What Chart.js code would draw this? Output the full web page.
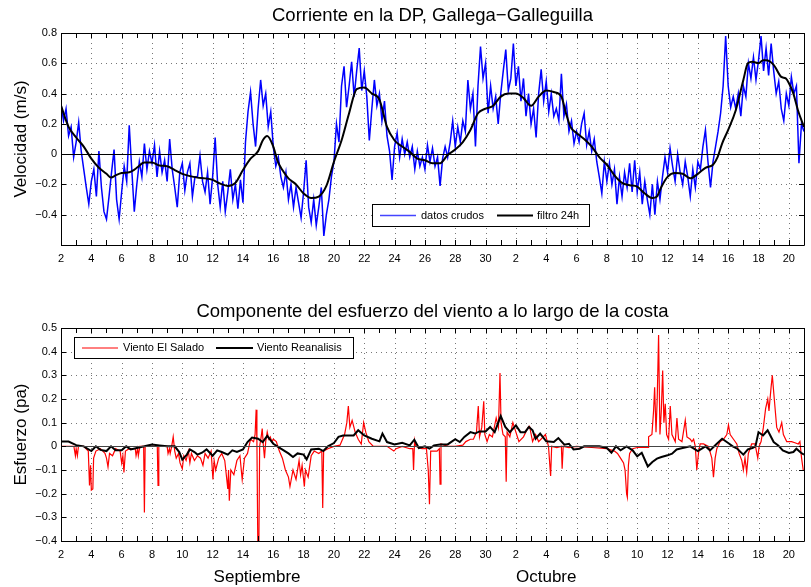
<!DOCTYPE html>
<html>
<head>
<meta charset="utf-8">
<script src="https://cdn.jsdelivr.net/npm/chart.js@4.4.0/dist/chart.umd.min.js"></script>
<style>
    body { margin: 0; background: #fff; }
    #wrap { position: relative; width: 811px; height: 587px; }
    canvas { position: absolute; left: 0; }
</style>
</head>
<body>
<div id="wrap">
    <canvas id="current-chart" width="811" height="290" style="top:0"></canvas>
    <canvas id="wind-chart" width="811" height="297" style="top:290px"></canvas>
</div>
<script>
// time axis: day counted from 1 Sept (Oct 1 = day 31)
const dayMin = 2;
const dayMax = 51;

// raw current, every 4 h from day 2
const rawStart = 2;
const rawStep = 1 / 6;
const rawCurrent = [
    0.33, 0.22, 0.30, 0.12, 0.18, -0.02,
    0.08, 0.21, 0.02, -0.10, -0.22, -0.33,
    -0.18, -0.10, -0.28, 0.02, -0.22, -0.38,
    -0.43, -0.28, -0.12, 0.03, -0.30, -0.43,
    -0.25, -0.08, -0.18, 0.19, -0.10, -0.38,
    -0.20, -0.05, -0.15, 0.07, -0.10, 0.02,
    -0.06, 0.06, -0.15, 0.02, -0.12, -0.04,
    -0.18, 0.10, -0.10, -0.22, -0.35, -0.12,
    -0.06, -0.24, -0.12, -0.06, -0.28, -0.15,
    -0.15, -0.01, -0.18, -0.25, -0.12, -0.33,
    -0.15, 0.11, -0.20, -0.35, -0.18, -0.38,
    -0.25, -0.10, -0.30, -0.20, -0.36, -0.17,
    -0.32, 0.08, 0.28, 0.41, 0.20, 0.05,
    0.30, 0.49, 0.32, 0.40, 0.18, 0.28,
    0.05, -0.08, -0.02, -0.15, -0.22, -0.12,
    -0.30, -0.20, -0.35, -0.22, -0.32, -0.42,
    -0.25, -0.04, -0.35, -0.45, -0.30, -0.47,
    -0.35, -0.22, -0.54, -0.40, -0.30, -0.15,
    -0.05, 0.20, 0.08, 0.45, 0.58, 0.31,
    0.45, 0.61, 0.38, 0.55, 0.70, 0.42,
    0.55, 0.38, 0.09, 0.30, 0.49, 0.32,
    0.40, 0.22, 0.35, 0.12, 0.02, -0.17,
    0.05, 0.14, -0.02, 0.10, 0.00, 0.08,
    -0.02, 0.05, -0.10, 0.02, -0.08, -0.02,
    -0.10, 0.06, -0.05, 0.04, -0.08, -0.02,
    -0.21, -0.03, 0.05, -0.02, 0.08, 0.22,
    0.05, 0.18, 0.08, 0.22, 0.15, 0.49,
    0.30, 0.40, 0.05, 0.45, 0.71, 0.50,
    0.60, 0.27, 0.45, 0.30, 0.38, 0.20,
    0.40, 0.55, 0.69, 0.42, 0.50, 0.73,
    0.45, 0.58, 0.35, 0.50, 0.25, 0.40,
    0.20, 0.30, 0.11, 0.40, 0.56, 0.35,
    0.48, 0.28, 0.40, 0.25, 0.30, 0.22,
    0.53, 0.25, 0.33, 0.15, 0.22, 0.07,
    0.15, 0.08, 0.20, 0.27, 0.06, 0.15,
    0.02, 0.10, -0.05, -0.15, -0.26, -0.05,
    -0.18, -0.06, -0.20, -0.10, -0.33, -0.15,
    -0.28, -0.12, -0.22, -0.06, -0.25, -0.04,
    -0.25, -0.12, -0.33, -0.18, -0.30, -0.40,
    -0.20, -0.40, -0.18, -0.30, -0.15, -0.02,
    -0.12, 0.04, -0.08, -0.18, 0.00, -0.12,
    -0.20, -0.05, -0.15, -0.28, -0.10, -0.22,
    -0.05, -0.10, 0.05, 0.16, -0.05, -0.22,
    -0.05, 0.05, 0.15, 0.27, 0.45, 0.78,
    0.45, 0.31, 0.38, 0.30, 0.40, 0.25,
    0.45, 0.38, 0.60, 0.50, 0.64, 0.49,
    0.62, 0.78, 0.55, 0.70, 0.52, 0.73,
    0.55, 0.40, 0.48, 0.30, 0.22, 0.40,
    0.32, 0.51, 0.40, 0.45, -0.06, 0.20,
    0.15
];

// 24h filtered current [day, m/s]
const filtered = [
    [2, 0.32], [2.5, 0.18], [3, 0.11], [3.5, 0.05], [4, -0.03], [4.5, -0.09], [5, -0.13], [5.3, -0.155],
    [5.6, -0.14], [6, -0.125], [6.5, -0.12], [6.8, -0.105], [7, -0.09], [7.5, -0.055], [8, -0.055],
    [8.5, -0.075], [9, -0.08], [9.5, -0.105], [10, -0.13], [10.5, -0.145], [11, -0.155], [11.5, -0.16],
    [12, -0.17], [12.5, -0.195], [13, -0.21], [13.5, -0.19], [14, -0.105], [14.5, -0.03], [15, 0.02],
    [15.3, 0.09], [15.6, 0.12], [16, 0.05], [16.3, -0.05], [16.6, -0.105], [17, -0.16], [17.5, -0.2],
    [18, -0.26], [18.5, -0.29], [19, -0.28], [19.5, -0.21], [20, -0.05], [20.5, 0.09], [21, 0.27],
    [21.5, 0.43], [22, 0.44], [22.5, 0.40], [23, 0.36], [23.5, 0.18], [24, 0.09], [24.5, 0.05],
    [25, 0.015], [25.5, -0.03], [26, -0.04], [26.5, -0.06], [27, -0.06], [27.5, -0.005], [28, 0.03],
    [28.5, 0.08], [29, 0.16], [29.5, 0.27], [30, 0.30], [30.5, 0.32], [31, 0.38], [31.5, 0.40],
    [32, 0.40], [32.5, 0.37], [33, 0.32], [33.5, 0.38], [34, 0.42], [34.5, 0.41], [35, 0.38],
    [35.3, 0.27], [35.6, 0.18], [36, 0.14], [36.5, 0.10], [37, 0.05], [37.5, -0.02], [38, -0.07],
    [38.5, -0.14], [39, -0.19], [39.5, -0.205], [40, -0.215], [40.5, -0.26], [41, -0.29], [41.3, -0.28],
    [41.6, -0.215], [42, -0.15], [42.5, -0.125], [43, -0.13], [43.5, -0.16], [44, -0.13], [44.5, -0.09],
    [45, -0.07], [45.3, -0.02], [45.6, 0.07], [46, 0.16], [46.5, 0.29], [47, 0.49], [47.3, 0.60],
    [47.6, 0.61], [48, 0.60], [48.3, 0.62], [48.5, 0.62], [49, 0.59], [49.5, 0.51], [49.8, 0.50],
    [50, 0.47], [50.3, 0.40], [50.6, 0.29], [51, 0.18]
];

// wind stress, El Salado station [day, Pa]
const salado = [
    [2.0, 0], [2.5, 0], [2.85, 0], [2.95, -0.04], [3.0, -0.01], [3.08, -0.04], [3.15, 0], [3.5, 0],
    [3.8, -0.02], [3.88, -0.165], [3.95, -0.08], [4.0, -0.185], [4.1, -0.18], [4.15, -0.05], [4.3, -0.02],
    [4.6, -0.01], [4.9, -0.03], [5.0, -0.05], [5.1, -0.087], [5.2, -0.03], [5.4, -0.04], [5.6, -0.01],
    [5.9, -0.02], [6.0, -0.07], [6.08, -0.04], [6.15, -0.11], [6.25, -0.02], [6.5, -0.01], [6.9, -0.01],
    [6.95, -0.04], [7.05, -0.01], [7.1, -0.04], [7.2, 0], [7.45, 0], [7.5, -0.28], [7.55, 0], [8.0, 0],
    [8.35, 0], [8.4, -0.165], [8.45, 0], [9.0, 0], [9.06, -0.03], [9.15, -0.01], [9.2, -0.03], [9.3, 0],
    [9.4, 0.04], [9.5, -0.02], [9.6, -0.05], [9.75, -0.03], [9.85, -0.07], [10.0, -0.095], [10.1, -0.04],
    [10.25, -0.06], [10.4, -0.02], [10.5, -0.07], [10.6, -0.03], [10.8, -0.06], [11.0, -0.04],
    [11.2, -0.05], [11.36, -0.08], [11.5, -0.03], [11.7, -0.05], [11.9, -0.02], [12.02, -0.14],
    [12.1, -0.06], [12.2, -0.1], [12.4, -0.05], [12.6, -0.03], [12.8, -0.06], [13.0, -0.18],
    [13.05, -0.1], [13.1, -0.23], [13.2, -0.1], [13.4, -0.12], [13.6, -0.06], [13.8, -0.04],
    [13.95, -0.14], [14.1, -0.05], [14.3, -0.03], [14.5, 0.03], [14.7, 0.02], [14.8, 0.05],
    [14.87, 0.155], [14.92, 0.02], [14.98, -0.42], [15.05, -0.42], [15.1, 0], [15.2, 0.04],
    [15.27, 0.075], [15.35, 0], [15.42, -0.05], [15.5, 0.02], [15.6, 0.06], [15.7, 0.03], [15.8, 0.04],
    [15.9, 0.02], [16.0, 0.03], [16.2, 0.02], [16.4, -0.02], [16.6, -0.05], [16.8, -0.1], [17.0, -0.13],
    [17.1, -0.17], [17.3, -0.1], [17.5, -0.14], [17.7, -0.06], [17.8, -0.12], [17.9, -0.08],
    [18.05, -0.17], [18.12, -0.1], [18.3, -0.13], [18.5, -0.04], [18.7, -0.02], [19.0, -0.03],
    [19.2, -0.02], [19.26, -0.26], [19.32, -0.02], [19.6, -0.01], [20.0, 0], [20.4, 0.005],
    [20.7, 0.05], [20.85, 0.1], [20.95, 0.17], [21.05, 0.08], [21.2, 0.11], [21.4, 0.06], [21.6, 0.03],
    [21.8, 0.01], [21.96, 0.1], [22.1, 0.06], [22.3, 0.02], [22.6, 0], [23.0, 0], [23.5, 0],
    [23.95, -0.02], [24.1, -0.01], [24.5, 0], [25.0, -0.01], [25.2, -0.01], [25.25, -0.1],
    [25.32, 0.025], [25.4, 0], [25.8, -0.01], [26.1, -0.01], [26.22, -0.1], [26.3, -0.245],
    [26.38, -0.02], [26.8, -0.02], [26.95, -0.01], [27.0, -0.16], [27.06, 0.01], [27.5, 0], [28.0, 0],
    [28.5, 0.005], [28.7, 0.02], [29.0, 0.03], [29.2, 0.03], [29.4, 0.06], [29.52, 0.17], [29.6, 0.04],
    [29.75, 0.08], [29.88, 0.19], [29.95, 0.05], [30.1, 0.02], [30.25, 0.05], [30.45, 0.04],
    [30.7, 0.12], [30.85, 0.08], [30.95, 0.31], [31.02, 0.1], [31.15, 0.05], [31.3, 0.04],
    [31.36, -0.15], [31.42, 0.06], [31.6, 0.04], [31.8, 0.1], [32.0, 0.06], [32.2, 0.02], [32.5, 0.04],
    [32.8, 0.08], [32.9, 0.085], [33.1, 0.02], [33.3, 0.05], [33.5, 0.02], [33.95, 0.05], [34.15, 0],
    [34.29, -0.125], [34.36, 0], [34.7, -0.005], [35.0, 0], [35.05, -0.095], [35.12, 0], [35.5, -0.005],
    [36.0, 0], [37.0, -0.005], [38.0, -0.01], [38.5, -0.02], [38.7, -0.03], [38.9, -0.05], [39.1, -0.07],
    [39.2, -0.1], [39.3, -0.2], [39.35, -0.215], [39.42, -0.08], [39.5, -0.03], [39.7, -0.01],
    [40.0, -0.005], [40.5, -0.005], [40.72, -0.005], [40.75, 0.04], [40.97, 0.05], [41.08, 0.15],
    [41.15, 0.25], [41.24, 0.06], [41.32, 0.2], [41.41, 0.47], [41.5, 0.05], [41.59, 0.15],
    [41.68, 0.32], [41.76, 0.1], [41.85, 0.18], [41.94, 0.05], [42.07, 0.03], [42.18, 0.17],
    [42.29, 0.05], [42.51, 0.02], [42.62, 0.12], [42.73, 0.03], [42.95, 0.02], [43.17, 0.11],
    [43.28, 0.04], [43.5, 0.03], [43.61, 0.02], [43.72, 0.03], [43.83, 0], [43.93, -0.1], [44.04, -0.03],
    [44.15, 0.01], [44.37, 0.01], [44.7, 0], [44.92, -0.05], [45.03, -0.13], [45.14, -0.05],
    [45.25, -0.01], [45.47, 0.02], [45.69, 0.03], [45.91, 0.05], [46.02, 0.09], [46.13, 0.05],
    [46.35, 0.03], [46.57, 0.01], [46.72, -0.03], [46.9, -0.06], [47.0, -0.1], [47.11, -0.05],
    [47.22, -0.11], [47.33, -0.03], [47.55, 0.01], [47.77, 0.01], [47.95, -0.05], [48.04, 0],
    [48.17, 0.02], [48.32, 0.08], [48.47, 0.16], [48.61, 0.2], [48.69, 0.15], [48.83, 0.25],
    [48.91, 0.3], [49.04, 0.2], [49.2, 0.08], [49.35, 0.06], [49.53, 0.1], [49.64, 0.05], [49.86, 0.02],
    [50.18, 0.02], [50.4, 0.015], [50.62, 0.01], [50.73, 0.02], [50.84, -0.05], [50.95, -0.1]
];

// wind stress, reanalysis [day, Pa]
const reanalysis = [
    [2, 0.02], [2.5, 0.02], [3, 0.005], [3.5, 0], [4, -0.02], [4.3, 0], [4.6, -0.015], [5, -0.02],
    [5.3, 0], [5.6, -0.017], [6, -0.017], [6.3, 0], [6.6, -0.013], [7, -0.007], [7.5, 0], [8, 0.008],
    [8.5, 0.004], [9, 0], [9.5, 0], [9.8, -0.024], [10, -0.056], [10.3, -0.035], [10.5, -0.013],
    [10.8, -0.024], [11, -0.035], [11.3, -0.027], [11.6, -0.013], [12, -0.04], [12.3, -0.017],
    [12.6, -0.024], [13, -0.035], [13.3, -0.017], [13.6, -0.024], [14, -0.013], [14.3, 0.018],
    [14.6, 0.037], [15, 0.032], [15.3, 0.018], [15.6, 0.044], [16, 0.011], [16.5, -0.01], [17, -0.03],
    [17.3, -0.045], [17.6, -0.03], [18, -0.035], [18.2, -0.055], [18.5, -0.013], [19, -0.01],
    [19.3, -0.02], [19.6, 0], [20, 0.014], [20.3, 0.04], [20.6, 0.046], [21, 0.046], [21.3, 0.046],
    [21.6, 0.068], [22, 0.046], [22.5, 0.032], [23, 0.021], [23.2, 0.054], [23.5, 0.018], [24, 0.008],
    [24.5, 0.015], [25, 0.004], [25.3, 0.028], [25.6, -0.007], [26, 0], [26.3, -0.01], [26.6, 0.004],
    [27, 0.008], [27.5, 0.008], [28, 0.03], [28.3, 0.018], [28.6, 0.04], [29, 0.06], [29.3, 0.054],
    [29.6, 0.063], [30, 0.063], [30.3, 0.082], [30.6, 0.06], [31, 0.128], [31.3, 0.082], [31.6, 0.06],
    [32, 0.089], [32.3, 0.06], [32.6, 0.06], [32.86, 0.082], [33.1, 0.068], [33.3, 0.032], [33.6, 0.054],
    [34, 0.021], [34.5, 0.018], [34.8, 0.035], [35.2, 0.007], [35.5, 0.011], [35.8, -0.013],
    [36.2, -0.01], [36.5, 0], [37, 0], [37.5, 0], [38, -0.007], [38.3, -0.027], [38.6, 0], [38.9, -0.017],
    [39.3, 0], [39.7, -0.017], [40, -0.042], [40.3, -0.027], [40.7, -0.085], [41, -0.066], [41.3, -0.052],
    [41.6, -0.045], [42, -0.038], [42.3, -0.031], [42.6, -0.013], [43, -0.007], [43.5, 0], [44, -0.02],
    [44.5, 0], [44.8, -0.017], [45.2, 0.008], [45.6, 0.032], [46, 0.014], [46.3, 0], [46.6, -0.01],
    [47, -0.035], [47.3, -0.013], [47.6, -0.007], [47.8, 0], [48, 0.06], [48.3, 0.046], [48.6, 0.068],
    [49, 0.018], [49.3, 0.004], [49.6, -0.017], [50, -0.028], [50.3, -0.024], [50.5, -0.01],
    [50.8, -0.027], [51, -0.035]
];

const FONT = '"Liberation Sans", Arial, Helvetica, sans-serif';
Chart.defaults.font.family = FONT;
Chart.defaults.color = '#000';

function dayLabel(v) {
    if (v % 2 !== 0) return '';
    return String(v > 30 ? v - 30 : v);
}

function numLabel(v, hide) {
    const r = Math.round(v * 10) / 10;
    if (hide.includes(r)) return '';
    if (r === 0) return '0';
    return r < 0 ? '\u2212' + Math.abs(r) : String(r);
}

function toPoints(pairs) {
    return pairs.map(p => ({ x: p[0], y: p[1] }));
}

// grid, zero line, frame, titles and legend
const decor = {
    id: 'decor',
    beforeDatasetsDraw(chart, args, o) {
        const { ctx, chartArea: a, scales: { x, y } } = chart;
        ctx.save();
        ctx.strokeStyle = '#777';
        ctx.lineWidth = 1;
        ctx.setLineDash([1, 4]);
        ctx.beginPath();
        x.ticks.forEach(t => {
            if (t.value % 2 === 0 && t.value > dayMin && t.value < dayMax) {
                const px = Math.round(x.getPixelForValue(t.value)) + 0.5;
                ctx.moveTo(px, a.top); ctx.lineTo(px, a.bottom);
            }
        });
        y.ticks.forEach(t => {
            const r = Math.round(t.value * 10) / 10;
            if (r !== 0 && t.value > y.min && t.value < y.max) {
                const py = Math.round(y.getPixelForValue(t.value)) + 0.5;
                ctx.moveTo(a.left, py); ctx.lineTo(a.right, py);
            }
        });
        ctx.stroke();
        ctx.restore();
    },
    afterDatasetsDraw(chart, args, o) {
        const { ctx, chartArea: a, scales: { x, y } } = chart;
        ctx.save();
        // zero line
        ctx.strokeStyle = o.zeroColor;
        ctx.lineWidth = 1;
        const pz = Math.round(y.getPixelForValue(0)) + 0.5;
        ctx.beginPath(); ctx.moveTo(a.left, pz); ctx.lineTo(a.right, pz); ctx.stroke();
        // frame + inward ticks
        ctx.strokeStyle = '#000';
        ctx.beginPath();
        ctx.rect(Math.round(a.left) + 0.5, Math.round(a.top) + 0.5,
            Math.round(a.right - a.left), Math.round(a.bottom - a.top));
        x.ticks.forEach(t => {
            const px = Math.round(x.getPixelForValue(t.value)) + 0.5;
            ctx.moveTo(px, a.bottom); ctx.lineTo(px, a.bottom - 5);
            ctx.moveTo(px, a.top); ctx.lineTo(px, a.top + 5);
        });
        y.ticks.forEach(t => {
            const py = Math.round(y.getPixelForValue(t.value)) + 0.5;
            ctx.moveTo(a.left, py); ctx.lineTo(a.left + 5, py);
            ctx.moveTo(a.right, py); ctx.lineTo(a.right - 5, py);
        });
        ctx.stroke();
        ctx.restore();
    },
    afterDraw(chart, args, o) {
        const { ctx, chartArea: a, scales: { x } } = chart;
        ctx.save();
        ctx.fillStyle = '#000';
        ctx.textAlign = 'center';
        ctx.textBaseline = 'middle';
        ctx.font = '18.5px ' + FONT;
        ctx.fillText(o.title, (a.left + a.right) / 2, o.titleY);
        ctx.font = '17px ' + FONT;
        ctx.save();
        ctx.translate(21, (a.top + a.bottom) / 2);
        ctx.rotate(-Math.PI / 2);
        ctx.fillText(o.yLabel, 0, 0);
        ctx.restore();
        (o.months || []).forEach(m => {
            ctx.fillText(m.text, x.getPixelForValue(m.day), o.monthY);
        });
        // legend box
        const L = o.legend;
        ctx.fillStyle = '#fff';
        ctx.fillRect(L.x, L.y, L.w, L.h);
        ctx.strokeStyle = '#000';
        ctx.lineWidth = 1;
        ctx.strokeRect(L.x + 0.5, L.y + 0.5, L.w, L.h);
        const my = L.y + L.h / 2 + 0.5;
        ctx.font = L.font + 'px ' + FONT;
        ctx.textAlign = 'left';
        ctx.fillStyle = '#000';
        L.items.forEach(it => {
            ctx.strokeStyle = it.color;
            ctx.lineWidth = it.width;
            ctx.beginPath(); ctx.moveTo(it.x0, my); ctx.lineTo(it.x1, my); ctx.stroke();
            ctx.fillText(it.text, it.tx, my);
        });
        ctx.restore();
    }
};

function baseScales(yMin, yMax, yStep, hide, xHeight) {
    return {
        x: {
            type: 'linear', min: dayMin, max: dayMax,
            grid: { display: false, drawTicks: false },
            border: { display: false },
            ticks: { stepSize: 1, autoSkip: false, maxRotation: 0, padding: 7,
                font: { size: 11 }, callback: dayLabel },
            afterFit: s => { s.height = xHeight; }
        },
        y: {
            type: 'linear', min: yMin, max: yMax,
            grid: { display: false, drawTicks: false },
            border: { display: false },
            ticks: { stepSize: yStep, padding: 4, font: { size: 11 },
                callback: v => numLabel(v, hide) },
            afterFit: s => { s.width = 61; }
        }
    };
}

new Chart(document.getElementById('current-chart'), {
    type: 'line',
    data: {
        datasets: [{
            label: 'filtro 24h',
            data: toPoints(filtered),
            borderColor: '#000',
            borderWidth: 2,
            pointRadius: 0,
            cubicInterpolationMode: 'monotone'
        }, {
            label: 'datos crudos',
            data: rawCurrent.map((v, i) => ({ x: rawStart + i * rawStep, y: v })),
            borderColor: '#0000ff',
            borderWidth: 1.5,
            pointRadius: 0,
            tension: 0
        }]
    },
    options: {
        responsive: false,
        animation: false,
        layout: { padding: { top: 33, right: 5, left: 0, bottom: 0 } },
        plugins: {
            legend: { display: false },
            tooltip: { enabled: false },
            decor: {
                title: 'Corriente en la DP, Gallega\u2212Galleguilla',
                titleY: 16,
                yLabel: 'Velocidad (m/s)',
                zeroColor: '#000',
                legend: {
                    x: 372, y: 204, w: 217, h: 22, font: 11,
                    items: [
                        { text: 'datos crudos', color: '#4444ff', width: 1.5, x0: 380, x1: 416, tx: 421 },
                        { text: 'filtro 24h', color: '#000', width: 2, x0: 497, x1: 533, tx: 537 }
                    ]
                }
            }
        },
        scales: baseScales(-0.6, 0.8, 0.2, [-0.6], 45)
    },
    plugins: [decor]
});

new Chart(document.getElementById('wind-chart'), {
    type: 'line',
    data: {
        datasets: [{
            label: 'Viento Reanalisis',
            data: toPoints(reanalysis),
            borderColor: '#000',
            borderWidth: 2,
            pointRadius: 0,
            tension: 0
        }, {
            label: 'Viento El Salado',
            data: toPoints(salado),
            borderColor: '#ff0000',
            borderWidth: 1.2,
            pointRadius: 0,
            tension: 0
        }]
    },
    options: {
        responsive: false,
        animation: false,
        layout: { padding: { top: 38, right: 5, left: 0, bottom: 0 } },
        plugins: {
            legend: { display: false },
            tooltip: { enabled: false },
            decor: {
                title: 'Componente del esfuerzo del viento a lo largo de la costa',
                titleY: 22,
                yLabel: 'Esfuerzo (pa)',
                zeroColor: '#444',
                monthY: 287,
                months: [{ text: 'Septiembre', day: 14.93 }, { text: 'Octubre', day: 34.0 }],
                legend: {
                    x: 74, y: 47, w: 279, h: 21, font: 11,
                    items: [
                        { text: 'Viento El Salado', color: '#ff0000', width: 1, x0: 82, x1: 118, tx: 123 },
                        { text: 'Viento Reanalisis', color: '#000', width: 2, x0: 216, x1: 253, tx: 257 }
                    ]
                }
            }
        },
        scales: baseScales(-0.4, 0.5, 0.1, [], 46)
    },
    plugins: [decor]
});
</script>
</body>
</html>
